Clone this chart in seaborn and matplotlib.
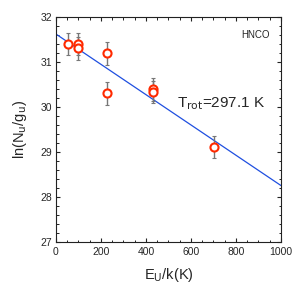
import numpy as np
import pandas as pd
import matplotlib.pyplot as plt
import seaborn as sns

#--------------------------------------------------------
eu=[55, 99, 99, 227, 227, 430, 430, 703]
ln_ng=[31.40, 31.40, 31.30, 31.19, 30.30, 30.39, 30.33, 29.11]
err=[0.25, 0.25, 0.25, 0.25, 0.25, 0.25, 0.25, 0.25]
trot=297.1
intercept=31.62
fit_x=[0, 1000]

#--------------------------------------------------------
sns.set_theme(style='ticks')
plt.rcParams['font.family']=['Liberation Sans', 'DejaVu Sans']
plt.rcParams['xtick.direction']='in'
plt.rcParams['ytick.direction']='in'

df=pd.DataFrame({'eu': eu, 'ln': ln_ng, 'err': err})
dfit=pd.DataFrame({'x': fit_x})
dfit['y']=intercept-dfit['x']/trot

fig=plt.figure(figsize=(3.06, 2.88), dpi=100)
ax=fig.add_axes([0.183, 0.160, 0.735, 0.781])

sns.lineplot(x='x', y='y', data=dfit, color='#1f4fe0', lw=0.9, ax=ax)
ax.errorbar(df['eu'], df['ln'], yerr=df['err'], fmt='none', ecolor='#777777',
	elinewidth=1.0, capsize=1.2, capthick=0.8, zorder=3)
sns.scatterplot(x='eu', y='ln', data=df, marker='o', s=34, facecolor='white',
	edgecolor='#ff2a00', linewidth=1.5, zorder=4, ax=ax)

#adjust
ax.set_xlim(0, 1000)
ax.set_ylim(27, 32)
ax.set_xticks(np.arange(0, 1001, 200))
ax.set_xticks(np.arange(0, 1001, 50), minor=True)
ax.set_yticks(np.arange(27, 32.1, 1))
ax.set_yticks(np.arange(27, 32.01, 0.2), minor=True)
ax.tick_params(which='both', top=True, right=True, labelsize=7.5, color='#222222')
ax.tick_params(axis='x', pad=4)
ax.tick_params(axis='y', pad=3)
ax.tick_params(which='major', length=3, width=0.8)
ax.tick_params(which='minor', length=1.8, width=0.7)
for s in ax.spines.values():
	s.set_linewidth(0.8)
	s.set_color('#222222')
ax.set_xlabel(r'E$_{\mathrm{U}}$/k(K)', fontsize=10.5, labelpad=6)
ax.set_ylabel(r'ln(N$_{\mathrm{u}}$/g$_{\mathrm{u}}$)', fontsize=10.5, labelpad=8)
ax.text(0.95, 0.92, 'HNCO', transform=ax.transAxes, ha='right', va='center', fontsize=7)
ax.text(0.54, 0.615, r'T$_{\mathrm{rot}}$=297.1 K', transform=ax.transAxes, ha='left',
	va='center', fontsize=11)

#save
plt.savefig('out.png', dpi=100)
plt.close()
